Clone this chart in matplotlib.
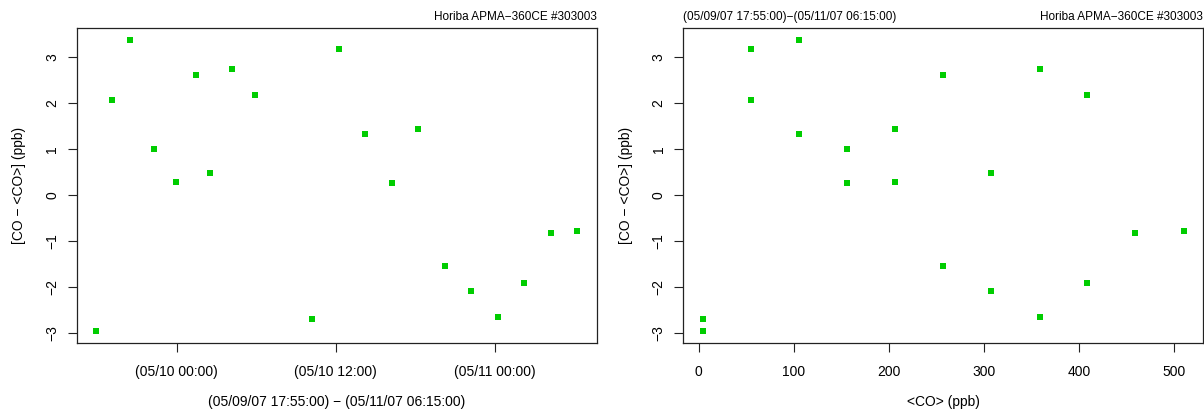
import numpy as np
import matplotlib
matplotlib.use("Agg")
import matplotlib.pyplot as plt
import matplotlib.dates as mdates
from datetime import datetime

plt.rcParams['font.family'] = ['Liberation Sans', 'DejaVu Sans']

# sample times, deviation from the step mean, and the step mean itself
times = ["05/09/07 17:55", "05/09/07 19:08", "05/09/07 20:30", "05/09/07 22:15",
         "05/09/07 23:55", "05/10/07 01:25", "05/10/07 02:30", "05/10/07 04:10",
         "05/10/07 05:55", "05/10/07 10:15", "05/10/07 12:15", "05/10/07 14:15",
         "05/10/07 16:15", "05/10/07 18:15", "05/10/07 20:15", "05/10/07 22:15",
         "05/11/07 00:15", "05/11/07 02:15", "05/11/07 04:15", "05/11/07 06:15"]
co_dev = [-2.95, 2.07, 3.38, 1.00, 0.29, 2.61, 0.48, 2.74, 2.19, -2.69,
          3.19, 1.34, 0.26, 1.44, -1.54, -2.08, -2.65, -1.91, -0.82, -0.78]
co_mean = [4.2, 54.9, 105.6, 156.0, 206.8, 257.4, 307.8, 358.5, 408.9, 4.2,
           54.9, 105.6, 156.0, 206.8, 257.4, 307.8, 358.5, 408.9, 459.2, 509.9]
instrument = "Horiba APMA\u2212360CE #303003"
period = "(05/09/07 17:55:00)\u2212(05/11/07 06:15:00)"
period_label = "(05/09/07 17:55:00) \u2212 (05/11/07 06:15:00)"
ylab = "[CO \u2212 <CO>] (ppb)"

t = [datetime.strptime(s, "%m/%d/%y %H:%M") for s in times]

green = "#00CD00"
fs = 10
fs_small = 8.5
W, H = 1204, 409
aw, ah = 519.5, 314.4

fig = plt.figure(figsize=(W / 100, H / 100), dpi=100)
ax1 = fig.add_axes([77 / W, (H - 342.7) / H, aw / W, ah / H])
ax2 = fig.add_axes([683.3 / W, (H - 342.7) / H, aw / W, ah / H])

ax1.plot(t, co_dev, 's', color=green, markersize=5, markeredgewidth=0)
ax2.plot(co_mean, co_dev, 's', color=green, markersize=5, markeredgewidth=0)

ax1.xaxis.set_major_locator(mdates.HourLocator(byhour=[0, 12]))
ax1.xaxis.set_major_formatter(mdates.DateFormatter("(%m/%d %H:%M)"))
ax2.set_xticks([0, 100, 200, 300, 400, 500])

for ax in (ax1, ax2):
    ax.margins(0.04)
    ax.set_yticks([-3, -2, -1, 0, 1, 2, 3])
    for sp in ax.spines.values():
        sp.set_linewidth(0.9)
        sp.set_color("#222222")
    ax.tick_params(direction='out', length=6.5, width=0.8, color="#222222",
                   labelsize=fs)
    ax.tick_params(axis='x', pad=9.3)
    ax.tick_params(axis='y', pad=6.3)
    for lab in ax.get_yticklabels():
        lab.set_rotation(90)
        lab.set_va('center')
    ax.set_ylabel(ylab, fontsize=fs, va='center')
    ax.yaxis.set_label_coords(-57.5 / aw, 0.5)
    ax.text(1, 1 + 11 / ah, instrument, transform=ax.transAxes,
            ha='right', va='center', fontsize=fs_small)

ax1.set_xlabel(period_label, fontsize=fs, va='center')
ax1.xaxis.set_label_coords(0.5, -59 / ah)
ax2.set_xlabel("<CO> (ppb)", fontsize=fs, va='center')
ax2.xaxis.set_label_coords(0.5, -59 / ah)
ax2.text(0, 1 + 11 / ah, period, transform=ax2.transAxes,
         ha='left', va='center', fontsize=fs_small)

fig.savefig("out.png", dpi=100)
